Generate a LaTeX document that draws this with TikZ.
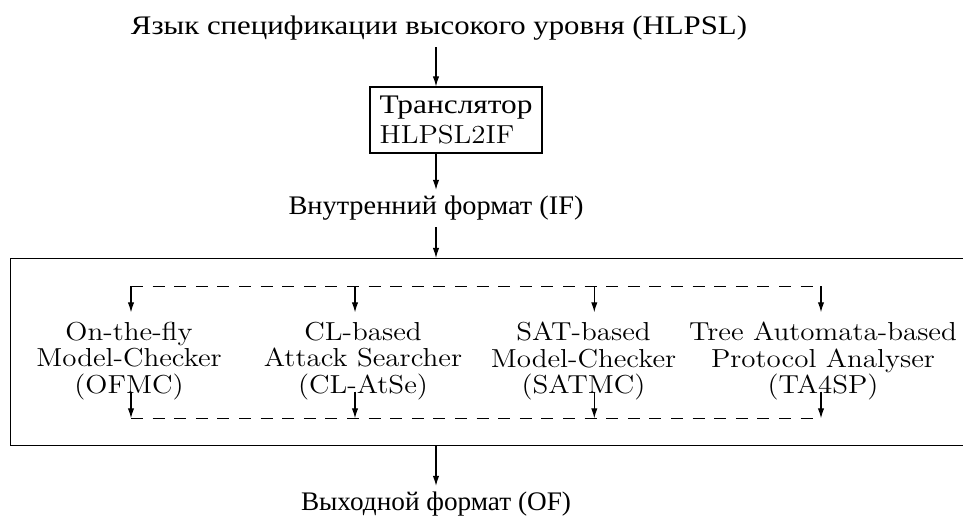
\documentclass[tikz,border=0pt]{standalone}
\usepackage{fontspec}
\setmainfont{Latin Modern Roman}
\newfontfamily\cyrfont{Liberation Serif}
\usepackage{graphicx}
\usetikzlibrary{arrows.meta}
\newcommand\latk{1.116}
\newcommand\lx[1]{\scalebox{\latk}[1]{#1}}
\newcommand\cw[2]{\resizebox{#1pt}{\height}{\fontsize{13.4pt}{15pt}\selectfont\cyrfont #2}}
\begin{document}
\begin{tikzpicture}[x=0.5pt,y=-0.5pt,line width=0.55pt,
  >={Latex[length=5pt,width=3.2pt]},
  lbl/.style={font=\fontsize{13pt}{13.25pt}\selectfont,inner sep=3pt,anchor=base},
  tool/.style={font=\fontsize{13pt}{13.25pt}\selectfont,inner sep=0pt,outer ysep=4.85pt,align=center},
  dsh/.style={dash pattern=on 6pt off 4.8pt}]
\useasboundingbox (0,0) rectangle (963,517);
\clip (0,0) rectangle (963,517);

\node[lbl] (hlpsl) at (439,35) {\cw{308}{Язык спецификации высокого уровня (HLPSL)}};
\node[draw,minimum width=86pt,minimum height=33pt,inner sep=0pt,align=left,
      font=\fontsize{13pt}{15.35pt}\selectfont] (trans) at (456,120)
      {\cw{76.5}{Транслятор}\\\lx{HLPSL2IF}};
\node[lbl] (ifn) at (436,215) {\cw{147.5}{Внутренний формат (IF)}};
\node[draw,minimum width=484.65pt,minimum height=93.5pt,inner sep=0pt] (tools) at (495.35,352) {};
\node[lbl] (of) at (436,511) {\cw{135}{Выходной формат (OF)}};

\node[tool] (ofmc) at (129,361) {\lx{On-the-fly}\\\lx{Model-Checker}\\\lx{(OFMC)}};
\node[tool] (clatse) at (363,361) {\lx{CL-based}\\\lx{Attack Searcher}\\\lx{(CL-AtSe)}};
\node[tool] (satmc) at (583.5,361) {\lx{SAT-based}\\\lx{Model-Checker}\\\lx{(SATMC)}};
\node[tool] (tasp) at (823,361) {\lx{Tree Automata-based}\\\lx{Protocol Analyser}\\\lx{(TA4SP)}};

\draw[->] (hlpsl.south -| ifn.south) -- (ifn.south |- trans.north);
\draw[->] (ifn.south |- trans.south) -- (ifn.north);
\draw[->] (ifn.south) -- (ifn.south |- tools.north);
\draw[->] (of.north |- tools.south) -- (of.north);

\coordinate (d1) at (131,286.3);
\coordinate (d2) at (355,286.3);
\coordinate (d3) at (594.3,286.3);
\coordinate (d4) at (821,286.3);
\coordinate (e1) at (131,418.3);
\coordinate (e4) at (821,418.3);
\coordinate (u1) at (131,391.7);
\coordinate (u2) at (355,391.7);
\coordinate (u3) at (594.3,391.7);
\coordinate (u4) at (821,391.7);

\draw[dsh] (d1) -- (d4);
\draw[dsh] (e1) -- (e4);
\draw[->] (d1) -- (d1 |- ofmc.north);
\draw[->] (d2) -- (d2 |- clatse.north);
\draw[->] (d3) -- (d3 |- satmc.north);
\draw[->] (d4) -- (d4 |- tasp.north);
\draw[->] (u1) -- (u1 |- e1);
\draw[->] (u2) -- (u2 |- e1);
\draw[->] (u3) -- (u3 |- e1);
\draw[->] (u4) -- (u4 |- e1);
\end{tikzpicture}
\end{document}
